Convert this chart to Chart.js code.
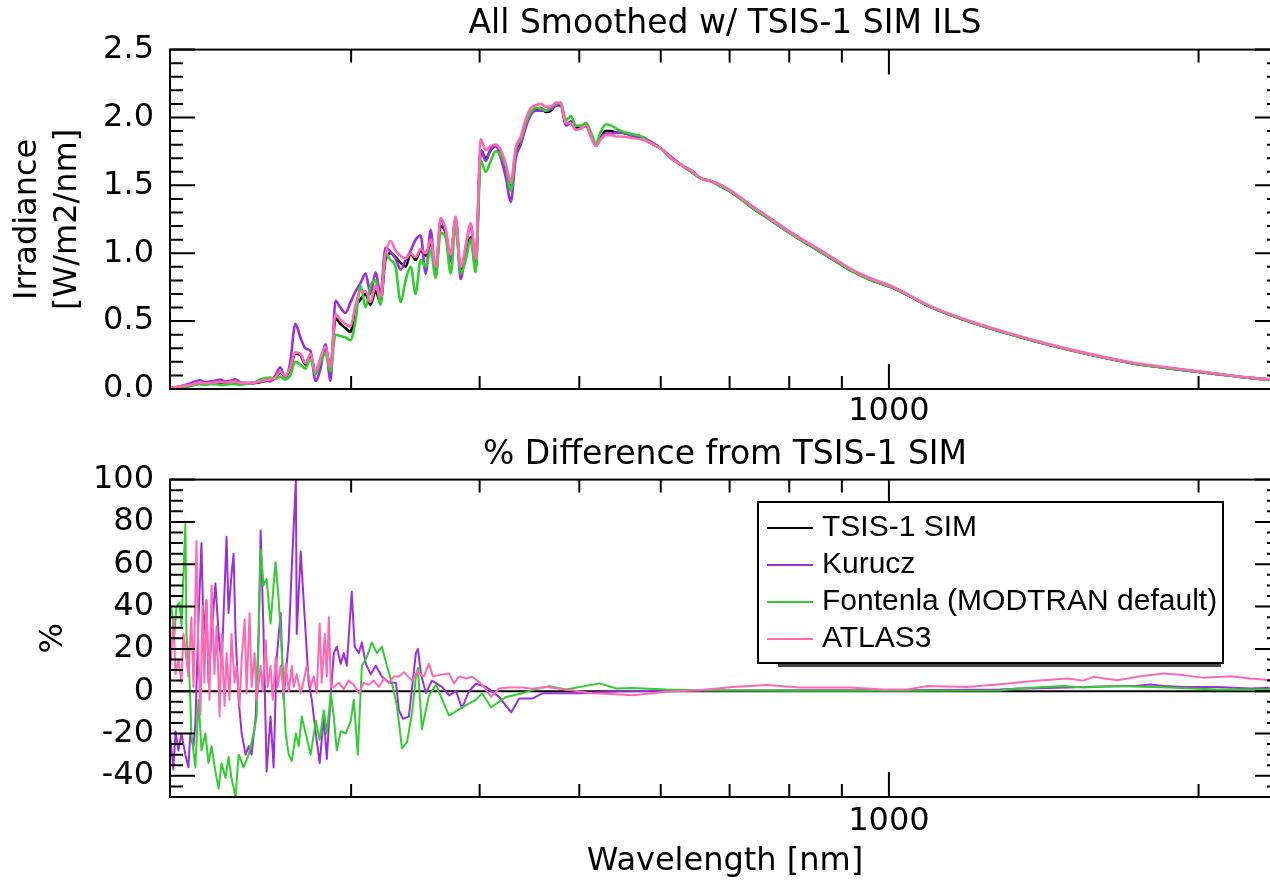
<!DOCTYPE html>
<html>
<head>
<meta charset="utf-8">
<script src="https://cdn.jsdelivr.net/npm/chart.js@4.4.1/dist/chart.umd.min.js"></script>
<style>
  html, body { margin: 0; padding: 0; background: #fff; overflow: hidden; width: 1270px; height: 880px; }
  #wrap { position: relative; width: 1270px; height: 880px; overflow: hidden; background: #fff; }
  canvas { position: absolute; left: 0; }
  #topCanvas { top: 0; width: 1290px; height: 430px; }
  #diffCanvas { top: 430px; width: 1290px; height: 450px; }
</style>
</head>
<body>
<div id="wrap">
  <canvas id="topCanvas" width="1290" height="430"></canvas>
  <canvas id="diffCanvas" width="1290" height="450"></canvas>
</div>
<script>
// ---------------- DATA ----------------
// Top panel: smoothed irradiance [W/m2/nm] vs wavelength [nm]
const topWavelength = [
  200.0,202.3,204.5,206.8,209.2,211.5,213.9,216.3,218.8,221.3,
  223.8,226.3,228.8,231.4,234.0,236.7,239.3,242.0,244.8,247.5,
  250.3,253.2,256.0,258.9,261.8,264.8,267.8,270.8,273.9,277.0,
  280.1,283.3,286.4,289.7,292.9,296.2,299.6,303.0,306.4,309.9,
  313.3,316.9,320.4,324.0,327.7,331.4,335.2,338.9,342.8,346.6,
  350.5,354.5,358.5,362.5,366.6,370.7,374.9,379.1,383.4,387.7,
  392.1,396.5,401.0,405.5,410.1,414.7,419.4,424.1,428.9,433.7,
  438.6,443.6,448.6,453.7,458.8,464.0,469.2,474.5,479.8,485.2,
  490.7,496.2,501.8,507.5,513.2,519.0,524.9,530.8,536.8,542.8,549.0,
  561.4,574.2,587.2,600.6,614.2,628.2,642.4,657.0,671.9,687.2,702.8,
  735.0,768.7,804.0,840.9,879.5,919.8,962.0,1006,
  1101,1204,1317,1440,1575,1723,1885,2061,2255,
  2400
];
const tsisIrradiance = [
  0.005,0.010,0.015,0.020,0.025,0.035,0.040,0.035,0.040,0.045,
  0.045,0.040,0.045,0.045,0.040,0.040,0.040,0.045,0.050,0.060,
  0.065,0.080,0.120,0.090,0.150,0.260,0.250,0.180,0.250,0.120,
  0.220,0.300,0.150,0.520,0.480,0.450,0.420,0.600,0.660,0.700,
  0.620,0.720,0.640,0.950,1.000,0.970,0.930,0.900,1.000,0.950,
  1.020,0.980,1.080,0.880,1.200,1.150,0.970,1.250,0.860,1.000,
  1.120,0.900,1.760,1.700,1.760,1.790,1.740,1.620,1.480,1.750,
  1.820,1.960,2.040,2.060,2.070,2.040,2.050,2.090,2.090,1.950,
  1.970,1.920,1.930,1.950,1.870,1.800,1.860,1.900,1.900,1.890,1.890,
  1.870,1.850,1.810,1.770,1.700,1.650,1.600,1.550,1.530,1.490,1.450,
  1.340,1.240,1.140,1.050,0.960,0.870,0.800,0.750,
  0.600,0.490,0.400,0.320,0.250,0.190,0.150,0.115,0.080,
  0.063
];
const kuruczIrradiance = [
  0.006,0.013,0.020,0.030,0.040,0.055,0.065,0.050,0.055,0.060,
  0.070,0.055,0.060,0.072,0.050,0.045,0.045,0.050,0.055,0.065,
  0.055,0.100,0.160,0.080,0.200,0.480,0.380,0.300,0.280,0.060,
  0.150,0.330,0.060,0.650,0.600,0.560,0.640,0.720,0.780,0.850,
  0.700,0.860,0.700,1.040,1.010,0.960,0.880,0.950,1.020,1.100,
  1.130,0.850,1.170,0.830,1.250,1.150,0.940,1.260,0.810,1.050,
  1.200,0.950,1.760,1.680,1.770,1.790,1.700,1.560,1.380,1.700,
  1.800,1.930,2.020,2.050,2.050,2.050,2.060,2.090,2.100,1.940,
  1.960,1.910,1.920,1.940,1.860,1.790,1.850,1.880,1.880,1.890,1.890,
  1.870,1.860,1.820,1.770,1.710,1.650,1.610,1.550,1.530,1.500,1.450,
  1.350,1.250,1.150,1.060,0.970,0.880,0.810,0.755,
  0.600,0.490,0.400,0.320,0.250,0.190,0.150,0.115,0.080,
  0.063
];
const fontenlaIrradiance = [
  0.004,0.008,0.012,0.015,0.020,0.030,0.035,0.030,0.035,0.035,
  0.030,0.030,0.035,0.035,0.030,0.035,0.040,0.050,0.070,0.080,
  0.085,0.075,0.090,0.070,0.100,0.200,0.180,0.150,0.220,0.110,
  0.200,0.260,0.130,0.400,0.390,0.380,0.360,0.500,0.760,0.600,
  0.760,0.800,0.620,1.000,0.950,0.900,0.640,0.800,0.900,0.700,
  0.950,0.900,1.020,0.820,1.150,1.120,0.850,1.200,0.850,0.950,
  1.100,0.860,1.680,1.600,1.680,1.750,1.720,1.640,1.460,1.760,
  1.840,1.960,2.040,2.070,2.070,2.050,2.080,2.100,2.110,1.980,
  2.010,1.940,1.940,1.960,1.890,1.810,1.900,1.950,1.940,1.920,1.900,
  1.880,1.860,1.810,1.770,1.700,1.650,1.600,1.550,1.530,1.490,1.450,
  1.340,1.240,1.140,1.050,0.960,0.870,0.800,0.750,
  0.600,0.490,0.400,0.320,0.250,0.190,0.150,0.115,0.080,
  0.063
];
const atlas3Irradiance = [
  0.005,0.012,0.018,0.025,0.030,0.040,0.048,0.042,0.045,0.050,
  0.052,0.048,0.050,0.055,0.045,0.045,0.042,0.048,0.055,0.065,
  0.070,0.085,0.130,0.095,0.160,0.270,0.260,0.190,0.260,0.130,
  0.230,0.310,0.160,0.550,0.510,0.480,0.460,0.620,0.720,0.720,
  0.640,0.760,0.680,0.980,1.090,1.020,0.980,0.960,1.000,0.970,
  1.030,1.000,1.100,0.900,1.260,1.180,0.990,1.270,0.900,1.050,
  1.220,0.960,1.840,1.760,1.790,1.800,1.760,1.660,1.530,1.780,
  1.860,1.990,2.070,2.090,2.100,2.080,2.080,2.110,2.100,1.960,
  1.960,1.910,1.920,1.940,1.860,1.790,1.840,1.870,1.870,1.860,1.860,
  1.850,1.840,1.810,1.770,1.700,1.650,1.610,1.550,1.530,1.500,1.460,
  1.350,1.250,1.150,1.060,0.970,0.880,0.810,0.755,
  0.605,0.495,0.405,0.325,0.255,0.195,0.155,0.118,0.083,
  0.066
];

// Bottom panel: % difference from TSIS-1 SIM
const tsisDiffWavelength = [200, 2400];
const tsisDiffPct = [0, 0];

const kuruczDiffWavelength = [
  200.0,201.5,202.5,203.8,205.2,207.0,208.4,209.3,210.8,211.7,
  213.2,214.6,215.6,217.0,218.0,219.5,221.4,223.0,224.5,227.0,
  228.0,229.5,230.6,231.6,233.2,234.8,236.9,238.5,240.1,242.3,
  243.9,245.0,246.6,248.3,250.5,252.2,253.9,256.2,257.9,260.9,
  262.7,265.1,265.6,268.0,269.2,271.0,272.8,274.7,277.2,279.6,
  282.2,284.1,286.7,288.6,290.5,293.1,295.1,297.1,300.4,302.4,
  305.2,307.3,310.0,313.5,317.0,321.4,326.5,331.7,333.9,336.8,
  341.4,346.8,348.4,350.8,354.7,359.5,367.7,373.5,379.4,384.5,
  390.6,396.7,405.9,417.8,429.3,437.1,450.0,460.2,500.0,547,
  654.5,819,1025,1283,1332,1491,1605,1729,1796,1849,
  1934,2087,2247,2400
];
const kuruczDiffPct = [
  -20,-37,-19,-28,-20,-30,-36,-20,-26,-15,
  35,70,27,43,4,27,51,27,12,73,
  37,55,65,27,-4,-20,-30,-26,-30,-12,
  27,76,27,-38,-12,-36,15,37,-4,24,
  59,100,27,66,50,27,4,-4,-20,-34,
  -12,-32,-1,18,21,13,18,12,47,21,
  18,23,13,8,12,7,4,4,-9,-13,
  -12,18,20,8,-1,5,2,-2,0,-8,
  0,3.5,2,-2.7,-10,-3.5,-3.5,-1,-1,0,
  0.3,0.5,0.5,0.8,1.1,1.7,2.2,2.4,3.2,2.5,
  2.0,2.0,1.3,1.7
];

const fontenlaDiffWavelength = [
  200.0,200.6,202.0,202.9,204.3,205.2,207.0,207.5,208.9,209.8,
  211.7,213.2,214.6,216.5,218.0,219.5,221.4,223.0,224.5,226.5,
  228.0,229.5,231.6,233.2,235.8,238.5,241.2,242.8,245.0,246.6,
  248.3,250.5,252.2,253.3,255.1,256.8,259.1,260.9,262.7,265.1,
  266.8,268.6,271.0,274.0,277.2,279.6,282.2,284.1,286.7,288.6,
  290.5,293.1,296.4,299.8,301.8,304.5,307.3,310.7,314.2,317.7,
  321.4,325.0,328.7,332.4,336.2,340.0,343.9,346.8,348.4,351.5,
  357.1,362.8,373.5,384.6,396.8,402.2,410.4,424.5,440.0,450.0,
  467.4,485.6,523.0,543.3,563.1,607.7,654.5,819,1025,1283,
  1332,1478,1545,1668,1866,2087,2400
];
const fontenlaDiffPct = [
  37,40,27,40,42,31,79,27,7,-20,
  -36,-4,-28,-20,-34,-26,-38,-46,-34,-41,
  -31,-41,-50,-30,-36,-30,-20,-12,67,50,
  53,32,50,61,43,20,-20,-30,-33,-20,
  -26,-12,-20,-30,-14,-23,-9,-20,-1,-12,
  -28,-19,-20,-14,-4,-30,12,16,23,18,
  21,12,4,-7,-27,-24,-10,6.5,11,-18,
  -2,3,-11.5,-7.6,-4,-1,-7.6,-2.7,-1,0.5,
  2.4,0.8,3.7,1.3,1.5,0.8,0.5,0.2,0.2,0.3,
  1.3,2.5,1.7,2.4,1.7,0.8,0.8
];

const atlas3DiffWavelength = [
  200.0,201.5,202.5,203.8,205.2,206.1,207.0,208.4,209.8,210.8,
  212.2,213.2,214.1,215.1,216.0,217.0,218.5,219.5,220.9,222.0,
  223.5,224.5,226.0,227.0,228.5,229.5,231.1,232.1,233.7,234.8,
  236.4,237.4,239.0,240.1,241.7,242.8,245.0,246.1,247.8,248.9,
  250.5,251.7,253.4,254.5,256.2,257.9,259.1,260.9,262.7,263.8,
  265.6,268.0,269.8,271.6,274.0,275.9,277.8,279.6,280.9,282.8,
  284.1,285.4,286.7,288.6,291.8,295.1,298.4,301.8,305.2,308.6,
  312.1,315.6,319.2,322.8,326.5,330.2,333.9,337.6,343.9,347.6,
  353.1,357.1,360.3,365.2,373.5,377.7,382.0,388.0,393.3,399.5,
  404.1,410.4,417.8,427.3,440.0,450.0,464.3,485.6,514.8,543.3,
  563.1,607.7,654.5,704.6,760.7,819,882,916,987,1041,
  1089,1191,1283,1381,1491,1545,1580,1668,1756,1849,
  1934,2023,2149,2247,2350,2400
];
const atlas3DiffPct = [
  8,34,8,15,4,27,20,7,35,2,
  71,15,-11,40,4,43,-4,50,8,31,
  -12,27,-7,18,-4,27,4,12,-7,15,
  34,-1,37,2,18,-4,12,0,24,2,
  12,-4,16,2,12,-1,13,0,12,2,
  8,-1,5,12,2,7,-1,32,4,27,
  7,35,2,2,4,1,5,3,-1,4,
  3,5,2,6,4,7,7,9,5,9,
  7,13,7,7.6,8.4,3.7,7,6,6.8,4.4,
  2,-2.7,1.3,1.7,1.7,1.2,2,0.8,-1,-1.4,
  -1.9,-0.3,0.5,2,2.9,1.7,1.7,1.7,0.8,0.8,
  2.4,2,3.3,4.8,6,5,6.8,5.2,7.1,8.4,
  7.6,6.3,7.1,6,5.2,5.0
];

// Axis ticks
const wavelengthTickLabels = [1000];
const wavelengthMajorTicks = [1000];
const wavelengthMinorTicks = [300, 400, 500, 600, 700, 800, 900, 2000];
const irradianceTickLabels = [0, 0.5, 1.0, 1.5, 2.0, 2.5];
const irradianceMinorStep = 0.1;
const pctTickLabels = [-40, -20, 0, 20, 40, 60, 80, 100];
const pctMinorStep = 5;

const seriesNames = ['TSIS-1 SIM', 'Kurucz', 'Fontenla (MODTRAN default)', 'ATLAS3'];
const seriesColors = ['#000000', '#9b30d6', '#33cc33', '#ff69b4'];

// ---------------- HELPERS ----------------
Chart.defaults.color = '#000';
const pts = (xs, ys) => xs.map((x, i) => ({ x: x, y: ys[i] }));
const minorList = (lo, hi, step, majors) => {
  const out = [];
  for (let v = lo; v <= hi + 1e-9; v += step) {
    const r = Math.round(v * 1000) / 1000;
    if (!majors.some(m => Math.abs(m - r) < 1e-6)) out.push(r);
  }
  return out;
};
const axisFont = (size) => ({ family: 'DejaVu Sans', size: size, weight: 'normal', lineHeight: 1.2 });

const idlFrame = {
  id: 'idlFrame',
  afterDatasetsDraw(chart, args, o) {
    const { ctx, chartArea: a, scales } = chart;
    const xs = scales.x, ys = scales.y;
    ctx.save();
    ctx.strokeStyle = '#000';
    ctx.lineWidth = 2;
    ctx.lineCap = 'butt';
    ctx.beginPath();
    const seg = (x1, y1, x2, y2) => { ctx.moveTo(x1, y1); ctx.lineTo(x2, y2); };
    o.xMajor.forEach(v => { const p = xs.getPixelForValue(v); seg(p, a.bottom, p, a.bottom - o.major); seg(p, a.top, p, a.top + o.major); });
    o.xMinor.forEach(v => { const p = xs.getPixelForValue(v); seg(p, a.bottom, p, a.bottom - o.minor); seg(p, a.top, p, a.top + o.minor); });
    o.yMajor.forEach(v => { const p = ys.getPixelForValue(v); seg(a.left, p, a.left + o.major, p); seg(a.right, p, a.right - o.major, p); });
    o.yMinor.forEach(v => { const p = ys.getPixelForValue(v); seg(a.left, p, a.left + o.minor, p); seg(a.right, p, a.right - o.minor, p); });
    ctx.stroke();
    ctx.strokeRect(a.left, a.top, a.right - a.left, a.bottom - a.top);
    ctx.restore();
  }
};

const boxLegend = {
  id: 'boxLegend',
  afterDraw(chart, args, o) {
    if (!o || !o.show) return;
    const ctx = chart.ctx;
    ctx.save();
    ctx.fillStyle = '#444';
    ctx.fillRect(o.left + 20, o.top + o.height, o.width - 22, 4);
    ctx.fillStyle = '#fff';
    ctx.fillRect(o.left, o.top, o.width, o.height);
    ctx.strokeStyle = '#000';
    ctx.lineWidth = 2;
    ctx.strokeRect(o.left, o.top, o.width, o.height);
    ctx.font = '30px "Liberation Sans", Arial, sans-serif';
    ctx.textBaseline = 'middle';
    ctx.textAlign = 'left';
    chart.data.datasets.forEach((ds, i) => {
      const yy = o.top + o.firstRow + i * o.rowGap;
      ctx.strokeStyle = ds.borderColor;
      ctx.lineWidth = 2;
      ctx.beginPath();
      ctx.moveTo(o.left + 9, yy);
      ctx.lineTo(o.left + 55, yy);
      ctx.stroke();
      ctx.fillStyle = '#000';
      ctx.fillText(ds.label, o.left + 64, yy);
    });
    ctx.restore();
  }
};

function xScale(axisHeight, labelPad, withTitle) {
  const s = {
    type: 'logarithmic', min: 200, max: 2400, bounds: 'data', offset: false,
    grid: { display: false, drawTicks: false }, border: { display: false },
    afterBuildTicks: sc => { sc.ticks = wavelengthTickLabels.map(v => ({ value: v })); },
    afterFit: sc => { sc.height = axisHeight; },
    ticks: { autoSkip: false, maxRotation: 0, minRotation: 0, padding: labelPad, color: '#000', font: axisFont(32), callback: v => String(v) }
  };
  if (withTitle) {
    s.title = { display: true, text: 'Wavelength [nm]', color: '#000', font: { family: 'DejaVu Sans', size: 32, lineHeight: 1.0 }, padding: { top: 0, bottom: 2 } };
  }
  return s;
}

// later datasets (higher index) are painted on top, like the original plot order
function ds(label, xs, ys, color, width, idx, smooth) {
  const d = { label: label, data: pts(xs, ys), borderColor: color, backgroundColor: color, borderWidth: width,
           pointRadius: 0, tension: 0, fill: false, borderJoinStyle: 'round', parsing: false, order: 10 - idx };
  if (smooth) d.cubicInterpolationMode = 'monotone';
  return d;
}

// ---------------- TOP CHART ----------------
new Chart(document.getElementById('topCanvas'), {
  type: 'line',
  data: {
    datasets: [
      ds(seriesNames[0], topWavelength, tsisIrradiance, seriesColors[0], 2.6, 0, true),
      ds(seriesNames[1], topWavelength, kuruczIrradiance, seriesColors[1], 2.6, 1, true),
      ds(seriesNames[2], topWavelength, fontenlaIrradiance, seriesColors[2], 2.6, 2, true),
      ds(seriesNames[3], topWavelength, atlas3Irradiance, seriesColors[3], 2.6, 3, true)
    ]
  },
  options: {
    responsive: false, animation: false, devicePixelRatio: 1,
    layout: { padding: { left: 0, right: 10, top: 0, bottom: 0 } },
    events: [],
    plugins: {
      legend: { display: false }, tooltip: { enabled: false },
      title: { display: true, fullSize: false, text: 'All Smoothed w/ TSIS-1 SIM ILS', color: '#000',
               font: { family: 'DejaVu Sans', size: 33, weight: 'normal', lineHeight: 1.2 }, padding: { top: 5, bottom: 5 } },
      idlFrame: { major: 25, minor: 13, xMajor: wavelengthMajorTicks, xMinor: wavelengthMinorTicks,
                  yMajor: irradianceTickLabels, yMinor: minorList(0, 2.5, irradianceMinorStep, irradianceTickLabels) },
      boxLegend: { show: false }
    },
    scales: {
      x: xScale(41, 3, false),
      y: {
        type: 'linear', min: 0, max: 2.5, bounds: 'data',
        grid: { display: false, drawTicks: false }, border: { display: false },
        afterBuildTicks: sc => { sc.ticks = irradianceTickLabels.map(v => ({ value: v })); },
        afterFit: sc => { sc.width = 170; },
        ticks: { padding: 16, color: '#000', font: axisFont(32), callback: v => Number(v).toFixed(1) },
        title: { display: true, text: ['Irradiance', '[W/m2/nm]'], color: '#000',
                 font: { family: 'DejaVu Sans', size: 32, lineHeight: 1.27 }, padding: { top: 7, bottom: 0 } }
      }
    }
  },
  plugins: [idlFrame, boxLegend]
});

// ---------------- BOTTOM CHART ----------------
new Chart(document.getElementById('diffCanvas'), {
  type: 'line',
  data: {
    datasets: [
      ds(seriesNames[0], tsisDiffWavelength, tsisDiffPct, seriesColors[0], 2, 0, false),
      ds(seriesNames[1], kuruczDiffWavelength, kuruczDiffPct, seriesColors[1], 2, 1, false),
      ds(seriesNames[2], fontenlaDiffWavelength, fontenlaDiffPct, seriesColors[2], 2, 2, false),
      ds(seriesNames[3], atlas3DiffWavelength, atlas3DiffPct, seriesColors[3], 2, 3, false)
    ]
  },
  options: {
    responsive: false, animation: false, devicePixelRatio: 1,
    layout: { padding: { left: 0, right: 10, top: 0, bottom: 0 } },
    events: [],
    plugins: {
      legend: { display: false }, tooltip: { enabled: false },
      title: { display: true, fullSize: false, text: '% Difference from TSIS-1 SIM', color: '#000',
               font: { family: 'DejaVu Sans', size: 33, weight: 'normal', lineHeight: 1.2 }, padding: { top: 6, bottom: 4 } },
      idlFrame: { major: 25, minor: 13, xMajor: wavelengthMajorTicks, xMinor: wavelengthMinorTicks,
                  yMajor: pctTickLabels, yMinor: minorList(-50, 100, pctMinorStep, pctTickLabels) },
      boxLegend: { show: true, left: 758, top: 72, width: 465, height: 161, firstRow: 26, rowGap: 37 }
    },
    scales: {
      x: xScale(83, 5, true),
      y: {
        type: 'linear', min: -50, max: 100, bounds: 'data',
        grid: { display: false, drawTicks: false }, border: { display: false },
        afterBuildTicks: sc => { sc.ticks = pctTickLabels.map(v => ({ value: v })); },
        afterFit: sc => { sc.width = 170; },
        ticks: { padding: 16, color: '#000', font: axisFont(32), callback: v => String(v) },
        title: { display: true, text: '%', color: '#000',
                 font: { family: 'DejaVu Sans', size: 32, lineHeight: 1.2 }, padding: { top: 34, bottom: 0 } }
      }
    }
  },
  plugins: [idlFrame, boxLegend]
});
</script>
</body>
</html>
